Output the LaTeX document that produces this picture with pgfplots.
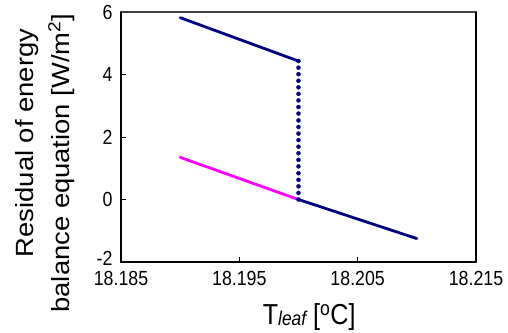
\documentclass[border=0pt]{standalone}
\usepackage{pgfplots}
\pgfplotsset{compat=1.18}
\usepackage{fontspec}
\setmainfont{Liberation Sans}
\newfontfamily\tickfont{Liberation Sans}[FakeStretch=0.87]
\newfontfamily\ylabfont{Liberation Sans}[FakeStretch=1.1]
\definecolor{navy}{RGB}{0,0,128}
\definecolor{mag}{RGB}{255,0,255}
\begin{document}
\begin{tikzpicture}
\useasboundingbox (-121bp,-71bp) rectangle (387bp,262bp);
\begin{axis}[
  at={(0,0)}, anchor=south west,
  scale only axis, width=355bp, height=250bp,
  xmin=18.185, xmax=18.215, ymin=-2, ymax=6,
  xtick={18.185,18.195,18.205,18.215},
  ytick={-2,0,2,4,6},
  xticklabels={18.185,18.195,18.205,18.215},
  yticklabels={\raisebox{7bp}{-2},0,2,4,\raisebox{-11bp}{6}},
  tick align=inside,
  xtick pos=bottom, ytick pos=left,
  major tick length=5bp,
  tick style={black, line width=0.8bp},
  axis line style={draw=black!75, line width=1.2bp},
  ticklabel style={font=\tickfont\fontsize{20.5}{22}\selectfont},
  xticklabel style={yshift=-6bp},
  yticklabel style={xshift=-5bp},
  xlabel={T\raisebox{-1.5bp}{\fontsize{20}{22}\selectfont\itshape leaf} [\textsuperscript{o}C]},
  xlabel style={font=\tickfont\fontsize{29}{32}\selectfont, at={(axis description cs:0.53,0)}, anchor=north, yshift=-38bp},
  ylabel={\hspace*{40bp}Residual of energy\\balance equation [W/m\textsuperscript{2}]},
  ylabel style={font=\ylabfont\fontsize{25}{36}\selectfont, align=center, at={(axis description cs:0,0.396)}, anchor=south, yshift=43bp},
  clip=false,
]
\addplot[navy, line width=2.8bp, line cap=round] coordinates {(18.19,5.82) (18.2,4.43)};
\addplot[mag, line width=2.8bp, line cap=round] coordinates {(18.19,1.35) (18.2,0)};
\addplot[navy, line width=2.8bp, line cap=round] coordinates {(18.2,0) (18.21,-1.25)};
\addplot[only marks, mark=*, mark size=2bp, navy] coordinates {
(18.2,4.43) (18.2,4.22) (18.2,4.01) (18.2,3.80) (18.2,3.59) (18.2,3.38) (18.2,3.17)
(18.2,2.96) (18.2,2.75) (18.2,2.53) (18.2,2.32) (18.2,2.11) (18.2,1.90) (18.2,1.69)
(18.2,1.48) (18.2,1.27) (18.2,1.06) (18.2,0.84) (18.2,0.63) (18.2,0.42) (18.2,0.21) (18.2,0.0)};
\draw[black, line width=2bp] (rel axis cs:0,1) -- (rel axis cs:0,0) -- (rel axis cs:1,0);
\draw[black, line width=1.2bp] (rel axis cs:1,0) -- (rel axis cs:1,1);
\end{axis}
\end{tikzpicture}
\end{document}
